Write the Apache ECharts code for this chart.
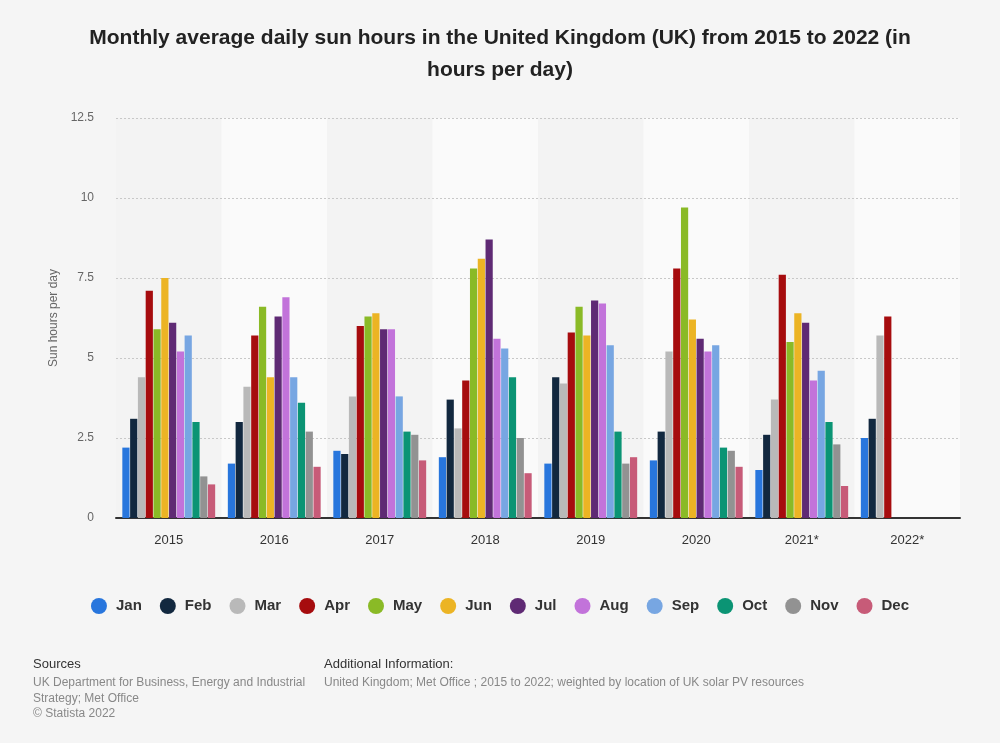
<!DOCTYPE html>
<html><head><meta charset="utf-8">
<script src="https://cdn.jsdelivr.net/npm/echarts@6/dist/echarts.min.js"></script>
<style>html,body{margin:0;padding:0;background:#f5f5f5;}#c{width:1000px;height:743px;}</style>
</head><body><div id="c"></div>
<script>
const years = ['2015','2016','2017','2018','2019','2020','2021*','2022*'];
const months = ['Jan','Feb','Mar','Apr','May','Jun','Jul','Aug','Sep','Oct','Nov','Dec'];
const colors = ['#2876dd','#12283f','#b9b9b9','#a60c0e','#8aba26','#ecb424','#5f2a74','#c273da','#77a6e2','#0b9474','#929292','#c75b78'];
const Jan = [2.2,1.7,2.1,1.9,1.7,1.8,1.5,2.5];
const Feb = [3.1,3.0,2.0,3.7,4.4,2.7,2.6,3.1];
const Mar = [4.4,4.1,3.8,2.8,4.2,5.2,3.7,5.7];
const Apr = [7.1,5.7,6.0,4.3,5.8,7.8,7.6,6.3];
const May = [5.9,6.6,6.3,7.8,6.6,9.7,5.5,null];
const Jun = [7.5,4.4,6.4,8.1,5.7,6.2,6.4,null];
const Jul = [6.1,6.3,5.9,8.7,6.8,5.6,6.1,null];
const Aug = [5.2,6.9,5.9,5.6,6.7,5.2,4.3,null];
const Sep = [5.7,4.4,3.8,5.3,5.4,5.4,4.6,null];
const Oct = [3.0,3.6,2.7,4.4,2.7,2.2,3.0,null];
const Nov = [1.3,2.7,2.6,2.5,1.7,2.1,2.3,null];
const Dec = [1.05,1.6,1.8,1.4,1.9,1.6,1.0,null];
const values = [Jan,Feb,Mar,Apr,May,Jun,Jul,Aug,Sep,Oct,Nov,Dec];

const chart = echarts.init(document.getElementById('c'));
chart.setOption({
  backgroundColor: '#f5f5f5',
  animation: false,
  color: colors,
  title: {
    text: 'Monthly average daily sun hours in the United Kingdom (UK) from 2015 to 2022 (in\nhours per day)',
    left: 'center', top: 17,
    textStyle: {fontFamily: 'Liberation Sans', fontSize: 21, fontWeight: 'bold', color: '#222', lineHeight: 32}
  },
  legend: {
    data: months, top: 593, left: 'center', icon: 'circle', itemWidth: 16, itemHeight: 16, itemGap: 18,
    textStyle: {fontFamily: 'Liberation Sans', fontSize: 15, fontWeight: 'bold', color: '#333', padding: [0, 0, 0, 4]}
  },
  grid: {left: 116, right: 40, top: 118, bottom: 225, containLabel: false},
  xAxis: {
    type: 'category', data: years, z: 3,
    axisLine: {lineStyle: {color: '#333', width: 2}},
    axisTick: {show: false},
    axisLabel: {fontFamily: 'Liberation Sans', fontSize: 13, color: '#333', margin: 16},
    splitArea: {show: true, areaStyle: {color: ['#f3f3f3', '#fafafa']}}
  },
  yAxis: {
    type: 'value', min: 0, max: 12.5, interval: 2.5, z: 4,
    name: 'Sun hours per day', nameLocation: 'middle', nameGap: 56,
    nameTextStyle: {fontFamily: 'Liberation Sans', fontSize: 12, color: '#666'},
    axisLine: {show: false}, axisTick: {show: false},
    axisLabel: {fontFamily: 'Liberation Sans', fontSize: 12, color: '#666', margin: 22},
    splitLine: {showMinLine: false, lineStyle: {color: '#c8c8c8', type: [2, 2], width: 1}}
  },
  series: months.map((m, i) => ({
    name: m, type: 'bar', data: values[i], z: 5,
    barGap: '8%', barCategoryGap: '12%',
    itemStyle: {color: colors[i]}
  })),
  graphic: [
    {type: 'text', left: 33, top: 658, style: {text: 'Sources', font: '13px Liberation Sans', fill: '#333'}},
    {type: 'text', left: 33, top: 675, style: {text: 'UK Department for Business, Energy and Industrial\nStrategy; Met Office\n© Statista 2022', font: '12px Liberation Sans', fill: '#888', lineHeight: 15.5}},
    {type: 'text', left: 324, top: 658, style: {text: 'Additional Information:', font: '13px Liberation Sans', fill: '#333'}},
    {type: 'text', left: 324, top: 675, style: {text: 'United Kingdom; Met Office ; 2015 to 2022; weighted by location of UK solar PV resources', font: '12px Liberation Sans', fill: '#888', lineHeight: 15.5}}
  ]
});
</script></body></html>
